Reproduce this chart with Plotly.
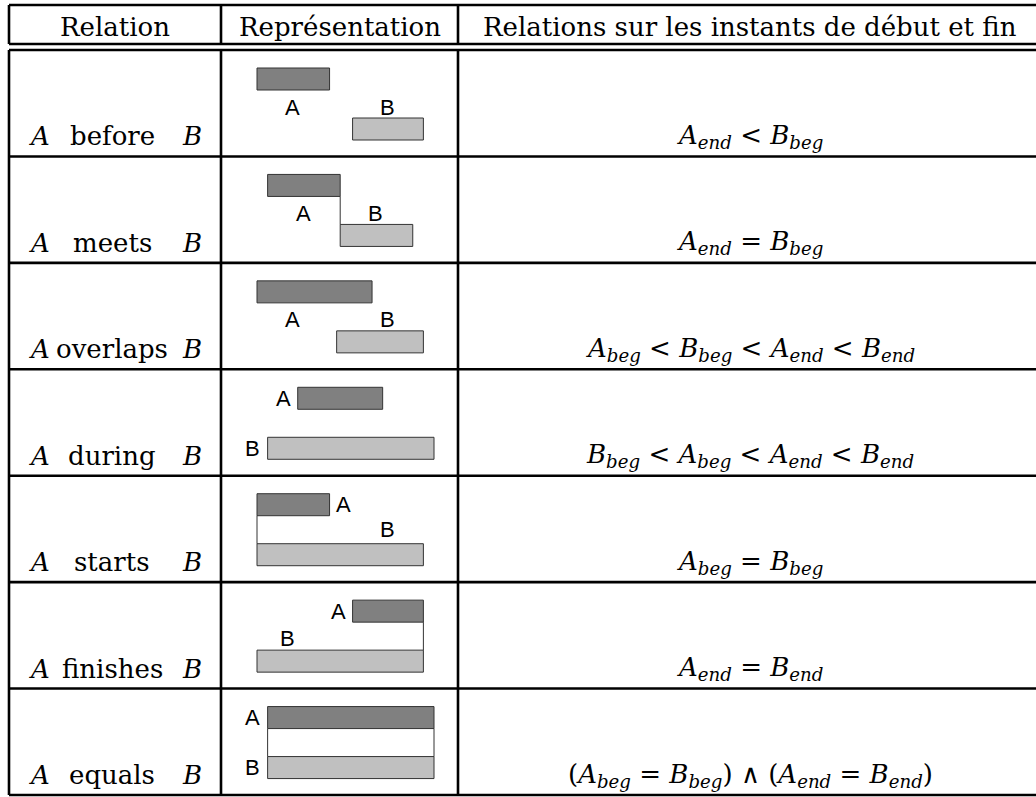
import plotly.graph_objects as go

W, H = 1036, 797

# ---------------- data ----------------
headers = ["Relation", "Représentation", "Relations sur les instants de début et fin"]
relations = ["before", "meets", "overlaps", "during", "starts", "finishes", "equals"]

# intervals in arbitrary time units
a_beg = [0, 6, 0, 23, 0, 54, 6]
a_end = [41, 47, 65, 71, 41, 94, 100]
b_beg = [54, 47, 45, 6, 0, 0, 6]
b_end = [94, 88, 94, 100, 94, 94, 100]

# label placement (x in time units, lane: 0 = A bar, 1 = B bar)
a_lab_x = [20, 26.5, 20, 14.7, 49, 45.8, -2.3]
a_lab_lane = [0.56, 0.56, 0.56, 0, 0, 0, 0]
b_lab_x = [74, 67, 74, -2.3, 73.5, 17, -2.3]
b_lab_lane = [0.56, 0.56, 0.56, 1, 0.5, 0.54, 1]

def sub(v, s):
    return "<i>%s</i><sub><i>%s</i></sub>" % (v, s)

formulas = [
    sub("A", "end") + " &lt; " + sub("B", "beg"),
    sub("A", "end") + " = " + sub("B", "beg"),
    sub("A", "beg") + " &lt; " + sub("B", "beg") + " &lt; " + sub("A", "end") + " &lt; " + sub("B", "end"),
    sub("B", "beg") + " &lt; " + sub("A", "beg") + " &lt; " + sub("A", "end") + " &lt; " + sub("B", "end"),
    sub("A", "beg") + " = " + sub("B", "beg"),
    sub("A", "end") + " = " + sub("B", "end"),
    "(" + sub("A", "beg") + " = " + sub("B", "beg") + ") ∧ (" + sub("A", "end") + " = " + sub("B", "end") + ")",
]

# ---------------- layout geometry ----------------
x_left, x_c1, x_c2, x_right = 9, 221, 458, 1043
y_top, y_h1, y_h2, y_bot = 5, 44, 50, 795
n = len(relations)
row_h = (y_bot - y_h2) / n
row_tops = [y_h2 + i * row_h for i in range(n)]

# time-unit -> pixel mapping for the representation column
u0_px, u_scale = 257.0, 1.77
x2_range = [(0 - u0_px) / u_scale, (W - u0_px) / u_scale]

A_OFF, B_OFF, BAR_W = 29, 79, 22

def lane_y(top, lane):
    return top + A_OFF + lane * (B_OFF - A_OFF)

fig = go.Figure()

ya = [t + A_OFF for t in row_tops]
yb = [t + B_OFF for t in row_tops]
fig.add_trace(go.Bar(
    orientation="h", y=ya, x=[e - b for b, e in zip(a_beg, a_end)], base=a_beg,
    width=BAR_W, xaxis="x2", yaxis="y", marker=dict(color="#808080", line=dict(color="#333333", width=1)),
    hoverinfo="skip", showlegend=False))
fig.add_trace(go.Bar(
    orientation="h", y=yb, x=[e - b for b, e in zip(b_beg, b_end)], base=b_beg,
    width=BAR_W, xaxis="x2", yaxis="y", marker=dict(color="#c0c0c0", line=dict(color="#333333", width=1)),
    hoverinfo="skip", showlegend=False))

# connectors where endpoints coincide
cx, cy = [], []
for i in range(n):
    pts = set()
    if a_end[i] == b_beg[i]:
        pts.add(a_end[i])
    if a_beg[i] == b_beg[i]:
        pts.add(a_beg[i])
    if a_end[i] == b_end[i]:
        pts.add(a_end[i])
    for p in sorted(pts):
        cx += [p, p, None]
        cy += [ya[i] + BAR_W / 2, yb[i] - BAR_W / 2, None]
fig.add_trace(go.Scatter(x=cx, y=cy, mode="lines", xaxis="x2", yaxis="y",
                         line=dict(color="#333333", width=1), hoverinfo="skip", showlegend=False))

# table lines
shapes = []
lw = 2.6
def hline(y, x0=x_left, x1=x_right):
    shapes.append(dict(type="line", xref="x", yref="y", x0=x0, x1=x1, y0=y, y1=y,
                       line=dict(color="black", width=lw)))
def vline(x, y0, y1):
    shapes.append(dict(type="line", xref="x", yref="y", x0=x, x1=x, y0=y0, y1=y1,
                       line=dict(color="black", width=lw)))

hline(y_top); hline(y_h1); hline(y_h2)
for t in row_tops[1:]:
    hline(t)
hline(y_bot)
for xx in (x_left, x_c1, x_c2, x_right):
    vline(xx, y_top, y_h1)
    vline(xx, y_h2, y_bot)

ann = []
SERIF = "DejaVu Serif"
FS = 26
col_centers = [(x_left + x_c1) / 2, (x_c1 + x_c2) / 2, 750]
for h, cxp in zip(headers, col_centers):
    ann.append(dict(x=cxp, y=27, text=h, xref="x", yref="y", showarrow=False,
                    xanchor="center", yanchor="middle", font=dict(family=SERIF, size=FS, color="black")))

for i, rel in enumerate(relations):
    yc = row_tops[i] + row_h - 20
    ann.append(dict(x=27, y=yc, text="<i>A</i>", xref="x", yref="y", showarrow=False,
                    xanchor="left", yanchor="middle", font=dict(family=SERIF, size=FS, color="black")))
    ann.append(dict(x=204, y=yc, text="<i>B</i>", xref="x", yref="y", showarrow=False,
                    xanchor="right", yanchor="middle", font=dict(family=SERIF, size=FS, color="black")))
    ann.append(dict(x=112, y=yc, text=rel, xref="x", yref="y", showarrow=False,
                    xanchor="center", yanchor="middle", font=dict(family=SERIF, size=FS, color="black")))
    ann.append(dict(x=750, y=yc, text=formulas[i], xref="x", yref="y", showarrow=False,
                    xanchor="center", yanchor="middle", font=dict(family=SERIF, size=FS, color="black")))
    # bar labels
    ann.append(dict(x=a_lab_x[i], y=lane_y(row_tops[i], a_lab_lane[i]), text="A", xref="x2", yref="y",
                    showarrow=False, xanchor="center", yanchor="middle",
                    font=dict(family="Liberation Sans", size=22, color="black")))
    ann.append(dict(x=b_lab_x[i], y=lane_y(row_tops[i], b_lab_lane[i]), text="B", xref="x2", yref="y",
                    showarrow=False, xanchor="center", yanchor="middle",
                    font=dict(family="Liberation Sans", size=22, color="black")))

fig.update_layout(
    width=W, height=H, margin=dict(l=0, r=0, t=0, b=0),
    paper_bgcolor="white", plot_bgcolor="white", barmode="overlay",
    xaxis=dict(range=[0, W], visible=False, fixedrange=True),
    xaxis2=dict(range=x2_range, visible=False, overlaying="x", fixedrange=True),
    yaxis=dict(range=[H, 0], visible=False, fixedrange=True),
    shapes=shapes, annotations=ann, showlegend=False,
)

fig.write_html("out.html", config={"displayModeBar": False},
               post_script="document.body.style.margin='0';document.body.style.overflow='hidden';")
